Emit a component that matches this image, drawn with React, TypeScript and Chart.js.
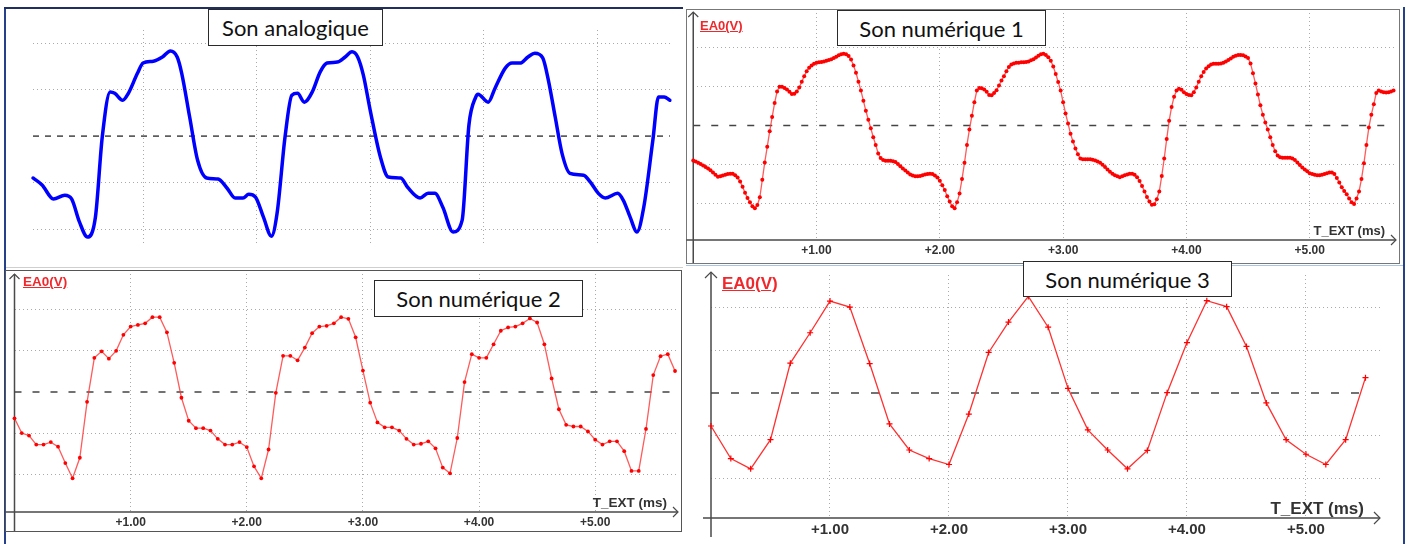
import React, { useEffect, useRef } from 'react';
import { Chart, registerables } from 'chart.js';
Chart.register(...registerables);

// ---------- data ----------
const X_TICKS_MS = [1, 2, 3, 4, 5];
const Y_GRID = [-2, -1, 1, 2];

const TITLES = ['Son analogique', 'Son numérique 1', 'Son numérique 2', 'Son numérique 3'];
const Y_LABEL = 'EA0(V)';
const X_LABEL = 'T_EXT (ms)';

// analog signal: time (ms) and level (grid divisions)
const ANALOG_T = [0.03,0.11,0.21,0.31,0.37,0.44,0.51,0.58,0.64,0.71,0.75,0.82,0.87,0.95,1.00,1.09,1.17,1.24,1.30,1.34,1.41,1.48,1.56,1.66,1.74,1.81,1.88,1.93,1.99,2.06,2.13,2.18,2.25,2.31,2.36,2.42,2.49,2.56,2.62,2.71,2.78,2.84,2.89,2.94,3.00,3.09,3.16,3.27,3.33,3.44,3.51,3.57,3.64,3.73,3.81,3.87,3.93,3.95,4.04,4.10,4.19,4.25,4.32,4.39,4.45,4.52,4.57,4.63,4.69,4.76,4.88,4.94,5.01,5.07,5.18,5.23,5.29,5.35,5.41,5.49,5.54,5.59,5.64];
const ANALOG_V = [-0.90,-1.05,-1.35,-1.27,-1.35,-1.85,-2.17,-1.74,-0.02,0.95,0.92,0.77,0.92,1.35,1.57,1.61,1.70,1.83,1.70,1.35,0.41,-0.52,-0.90,-0.92,-1.12,-1.33,-1.33,-1.25,-1.31,-1.74,-2.15,-1.66,-0.02,0.88,0.92,0.73,0.95,1.38,1.57,1.59,1.70,1.81,1.70,1.31,0.56,-0.45,-0.88,-0.90,-1.10,-1.33,-1.23,-1.23,-1.53,-2.06,-1.81,0.24,0.84,0.90,0.73,1.03,1.46,1.57,1.57,1.70,1.78,1.68,1.20,0.41,-0.37,-0.80,-0.84,-0.99,-1.23,-1.33,-1.23,-1.38,-1.74,-2.06,-1.53,-0.09,0.84,0.84,0.77];

// numérique 1: sampled every 0.02 ms
const NUM1_DT = 0.02;
const NUM1_V = [
-0.90,-0.93,-0.96,-0.99,-1.03,-1.07,-1.11,-1.15,-1.21,-1.27,
-1.32,-1.31,-1.29,-1.27,-1.25,-1.24,-1.24,-1.28,-1.34,-1.44,
-1.58,-1.73,-1.87,-1.98,-2.08,-2.13,-2.05,-1.85,-1.40,-0.95,
-0.55,-0.15,0.22,0.58,0.88,1.00,1.00,0.97,0.93,0.87,
0.81,0.82,0.88,0.98,1.13,1.27,1.40,1.49,1.55,1.59,
1.62,1.63,1.64,1.65,1.67,1.69,1.71,1.74,1.77,1.81,
1.84,1.85,1.84,1.79,1.70,1.55,1.36,1.13,0.90,0.64,
0.38,0.15,-0.07,-0.30,-0.50,-0.72,-0.84,-0.89,-0.91,-0.91,
-0.91,-0.92,-0.94,-0.99,-1.05,-1.11,-1.16,-1.21,-1.26,-1.29,
-1.31,-1.31,-1.30,-1.28,-1.26,-1.25,-1.24,-1.25,-1.29,-1.34,
-1.42,-1.54,-1.66,-1.82,-1.96,-2.08,-2.13,-1.98,-1.75,-1.38,
-0.96,-0.50,-0.10,0.25,0.60,0.90,0.97,0.96,0.93,0.87,
0.79,0.78,0.84,0.91,1.03,1.16,1.27,1.40,1.51,1.57,
1.60,1.62,1.62,1.63,1.63,1.64,1.65,1.68,1.71,1.75,
1.80,1.84,1.85,1.82,1.76,1.67,1.52,1.33,1.12,0.90,
0.60,0.31,0.05,-0.21,-0.41,-0.59,-0.74,-0.85,-0.87,-0.87,
-0.87,-0.87,-0.88,-0.90,-0.93,-0.96,-1.01,-1.07,-1.13,-1.19,
-1.24,-1.28,-1.31,-1.33,-1.31,-1.28,-1.26,-1.24,-1.24,-1.27,
-1.33,-1.43,-1.56,-1.70,-1.84,-1.96,-2.04,-2.03,-1.90,-1.70,
-1.30,-0.85,-0.35,0.12,0.48,0.74,0.90,0.95,0.92,0.86,
0.81,0.79,0.78,0.86,0.98,1.13,1.27,1.38,1.47,1.53,
1.57,1.59,1.59,1.59,1.60,1.62,1.65,1.69,1.73,1.77,
1.80,1.82,1.82,1.81,1.78,1.74,1.60,1.35,1.08,0.80,
0.52,0.28,0.08,-0.10,-0.30,-0.50,-0.66,-0.77,-0.82,-0.83,
-0.83,-0.83,-0.83,-0.85,-0.89,-0.95,-1.02,-1.08,-1.13,-1.18,
-1.23,-1.25,-1.27,-1.28,-1.28,-1.27,-1.25,-1.23,-1.21,-1.21,
-1.25,-1.35,-1.47,-1.59,-1.69,-1.77,-1.88,-1.98,-2.02,-1.88,
-1.70,-1.38,-0.97,-0.50,-0.05,0.28,0.55,0.84,0.90,0.88,
0.86,0.85,0.86,0.88,0.90
];

// numérique 2: sampled every 0.0625 ms
const NUM2_DT = 0.0625;
const NUM2_V = [
-0.64,-1.00,-1.06,-1.28,-1.28,-1.22,-1.33,-1.73,-2.10,-1.60,
-0.24,0.83,0.99,0.81,1.00,1.39,1.59,1.63,1.67,1.82,
1.82,1.45,0.71,-0.14,-0.70,-0.88,-0.88,-0.94,-1.14,-1.28,
-1.28,-1.22,-1.34,-1.81,-2.10,-1.40,-0.02,0.88,0.88,0.77,
1.08,1.43,1.59,1.61,1.67,1.82,1.78,1.33,0.52,-0.26,
-0.74,-0.86,-0.86,-0.94,-1.14,-1.28,-1.26,-1.20,-1.37,-1.84,
-1.98,-1.12,0.24,0.92,0.83,0.83,1.16,1.49,1.57,1.59,
1.67,1.79,1.69,1.16,0.33,-0.42,-0.80,-0.84,-0.84,-0.96,
-1.16,-1.28,-1.20,-1.20,-1.44,-1.92,-1.92,-0.90,0.41,0.87,
0.92,0.51
];

// numérique 3: sampled every 1/6 ms
const NUM3_DT = 1 / 6;
const NUM3_V = [-0.77,-1.53,-1.77,-1.09,0.70,1.41,2.15,2.01,0.69,-0.72,-1.33,-1.53,-1.67,-0.49,0.95,1.66,2.26,1.54,0.11,-0.86,-1.33,-1.77,-1.34,0.01,1.18,2.16,2.02,1.09,-0.23,-1.09,-1.43,-1.67,-1.09,0.36];

// ---------- helpers ----------
const sampled = (vals: number[], dt: number) => vals.map((v, i) => ({ x: i * dt, y: v }));
const paired = (ts: number[], vs: number[]) => ts.map((t, i) => ({ x: t, y: vs[i] }));

const axisArrows = {
  id: 'axisArrows',
  beforeDatasetsDraw(chart: any, _args: any, opts: any) {
    if (!opts || !opts.show) return;
    const { ctx, chartArea: a } = chart;
    const h = opts.head;
    const topY = a.top - opts.up;
    ctx.save();
    ctx.strokeStyle = '#4a4a4a';
    ctx.lineWidth = 1.5;
    ctx.beginPath();
    ctx.moveTo(a.left, topY);
    ctx.lineTo(a.left, a.bottom + opts.down);
    ctx.moveTo(a.left - opts.left, a.bottom);
    ctx.lineTo(a.right, a.bottom);
    ctx.stroke();
    ctx.lineWidth = 1.2;
    ctx.beginPath();
    ctx.moveTo(a.left - h, topY + h);
    ctx.lineTo(a.left, topY);
    ctx.lineTo(a.left + h, topY + h);
    ctx.moveTo(a.right - h, a.bottom - h);
    ctx.lineTo(a.right, a.bottom);
    ctx.lineTo(a.right - h, a.bottom + h);
    ctx.stroke();
    ctx.restore();
  },
};

type Box = { left: number; top: number; width: number; height: number };
type Pad = { left: number; right: number; top: number; bottom: number };

function ScopeChart(p: {
  box: Box; pad: Pad; xMin: number; xMax: number; yMin: number; yMax: number;
  xAxisH: number; tickSize: number; points: { x: number; y: number }[]; series: any;
  zeroDash: number[]; axes?: { up: number; down: number; left: number; head: number };
}) {
  const ref = useRef<HTMLCanvasElement>(null);
  useEffect(() => {
    const pts = p.points;
    const chart = new Chart(ref.current as HTMLCanvasElement, {
      type: 'line',
      data: {
        datasets: [
          { data: pts, order: 0, clip: 10, ...p.series },
          {
            data: [{ x: pts[0].x, y: 0 }, { x: pts[pts.length - 1].x, y: 0 }],
            borderColor: '#444', borderWidth: 1.5, borderDash: p.zeroDash,
            pointRadius: 0, order: 1, clip: 10,
          },
        ],
      },
      options: {
        animation: false,
        responsive: false,
        devicePixelRatio: 1,
        events: [],
        layout: { padding: p.pad },
        plugins: {
          legend: { display: false },
          tooltip: { enabled: false },
          axisArrows: p.axes ? { ...p.axes, show: true } : { show: false },
        } as any,
        scales: {
          x: {
            type: 'linear', min: p.xMin, max: p.xMax,
            afterBuildTicks: (s: any) => { s.ticks = X_TICKS_MS.map((v) => ({ value: v })); },
            afterFit: (s: any) => { s.height = p.xAxisH; },
            ticks: {
              display: p.xAxisH > 0, autoSkip: false, maxRotation: 0, padding: 3, color: '#333',
              font: { family: 'Liberation Sans', weight: 'bold', size: p.tickSize },
              callback: (v: any) => '+' + Number(v).toFixed(2),
            },
            grid: { color: '#aaaaaa', lineWidth: 1, drawTicks: false },
            border: { display: false, dash: [1, 3] },
          },
          y: {
            type: 'linear', min: p.yMin, max: p.yMax,
            afterBuildTicks: (s: any) => { s.ticks = Y_GRID.map((v) => ({ value: v })); },
            afterFit: (s: any) => { s.width = 0; },
            ticks: { display: false },
            grid: { color: '#aaaaaa', lineWidth: 1, drawTicks: false },
            border: { display: false, dash: [1, 3] },
          },
        },
      } as any,
      plugins: [axisArrows as any],
    });
    return () => chart.destroy();
  }, []);
  return (
    <canvas
      ref={ref}
      width={p.box.width}
      height={p.box.height}
      style={{ position: 'absolute', left: p.box.left, top: p.box.top, width: p.box.width, height: p.box.height }}
    />
  );
}

const Rect = (s: React.CSSProperties) => <div style={{ position: 'absolute', boxSizing: 'border-box', ...s }} />;

const TitleBox = ({ text, left, top, width, height }: { text: string; left: number; top: number; width: number; height: number }) => (
  <div style={{
    position: 'absolute', left, top, width, height, boxSizing: 'border-box', border: '1.5px solid #2a2a2a',
    background: '#fff', display: 'flex', alignItems: 'center', justifyContent: 'center',
    fontFamily: 'Lato, "Open Sans", sans-serif', fontSize: 22, color: '#111', whiteSpace: 'nowrap',
  }}>{text}</div>
);

const YLab = ({ left, top, size }: { left: number; top: number; size: number }) => (
  <div style={{
    position: 'absolute', left, top, fontFamily: '"Liberation Sans", Arial, sans-serif', fontWeight: 'bold',
    fontSize: size, lineHeight: 1, color: '#f0282c', textDecoration: 'underline', whiteSpace: 'nowrap',
  }}>{Y_LABEL}</div>
);

const XLab = ({ right, top, size }: { right: number; top: number; size: number }) => (
  <div style={{
    position: 'absolute', left: right - 160, width: 160, top, textAlign: 'right',
    fontFamily: '"Liberation Sans", Arial, sans-serif', fontWeight: 'bold',
    fontSize: size, lineHeight: 1, color: '#333', whiteSpace: 'nowrap',
  }}>{X_LABEL}</div>
);

const dotSeries = (r: number) => ({
  borderColor: 'rgba(255,50,50,0.8)', borderWidth: 1.3, pointRadius: r,
  pointBackgroundColor: '#ff0000', pointBorderColor: '#ff0000', pointBorderWidth: 0,
});

export default function App() {
  return (
    <div style={{ position: 'absolute', left: 0, top: 0, width: 1409, height: 544, background: '#fff', overflow: 'hidden' }}>
      {/* frames */}
      <Rect left={4} top={7} width={2} height={537} background="#26408a" />
      <Rect left={4} top={7} width={679} height={1.5} background="#1f2f60" />
      <Rect left={6} top={267} width={677} height={1} background="#cfcfcf" />
      <Rect left={686} top={9} width={714} height={255} border="1px solid #777" />
      <Rect left={686} top={265} width={717} height={1} background="#a9c5e3" />
      <Rect left={1403} top={7} width={2} height={537} background="#26408a" />
      <Rect left={5} top={270} width={677} height={262} border="1px solid #555" />

      {/* Son analogique */}
      <ScopeChart
        box={{ left: 23, top: 20, width: 658, height: 235 }}
        pad={{ left: 10, right: 10, top: 10, bottom: 10 }}
        xMin={0.03} xMax={5.65} yMin={-2.34} yMax={2.28} xAxisH={0} tickSize={12}
        points={paired(ANALOG_T, ANALOG_V)}
        series={{ borderColor: '#0000ff', borderWidth: 3.5, pointRadius: 0, cubicInterpolationMode: 'monotone', borderJoinStyle: 'round', borderCapStyle: 'round' }}
        zeroDash={[6, 6]}
      />
      {/* Son numérique 1 */}
      <ScopeChart
        box={{ left: 686, top: 9, width: 714, height: 255 }}
        pad={{ left: 7.25, right: 1.4, top: 3, bottom: 0 }}
        xMin={0} xMax={5.7} yMin={-2.95} yMax={2.9} xAxisH={24} tickSize={12}
        points={sampled(NUM1_V, NUM1_DT)}
        series={dotSeries(2)}
        zeroDash={[7, 11]}
        axes={{ up: 1, down: 23, left: 7, head: 5 }}
      />
      {/* Son numérique 2 */}
      <ScopeChart
        box={{ left: 5, top: 270, width: 677, height: 262 }}
        pad={{ left: 9.5, right: 2, top: 2, bottom: 0 }}
        xMin={0} xMax={5.713} yMin={-2.92} yMax={2.87} xAxisH={20} tickSize={12}
        points={sampled(NUM2_V, NUM2_DT)}
        series={dotSeries(1.9)}
        zeroDash={[7, 11]}
        axes={{ up: 0, down: 19, left: 10, head: 5 }}
      />
      {/* Son numérique 3 */}
      <ScopeChart
        box={{ left: 690, top: 268, width: 710, height: 276 }}
        pad={{ left: 21, right: 20, top: 7, bottom: 0 }}
        xMin={0} xMax={5.622} yMin={-2.92} yMax={2.76} xAxisH={26} tickSize={15}
        points={sampled(NUM3_V, NUM3_DT)}
        series={{ borderColor: '#ff3030', borderWidth: 1.3, pointStyle: 'cross', pointRadius: 3, pointBorderColor: '#ff0000', pointBorderWidth: 1.2 }}
        zeroDash={[8, 12]}
        axes={{ up: 3, down: 19, left: 8, head: 6 }}
      />

      {/* labels */}
      <YLab left={700} top={18.5} size={13} />
      <YLab left={23} top={275} size={13.5} />
      <YLab left={722} top={274.5} size={17} />
      <XLab right={1385} top={223.5} size={13} />
      <XLab right={667} top={496} size={13.5} />
      <XLab right={1364} top={499.5} size={17} />

      <TitleBox text={TITLES[0]} left={208} top={9} width={175} height={37} />
      <TitleBox text={TITLES[1]} left={837} top={10} width={209} height={36} />
      <TitleBox text={TITLES[2]} left={374} top={280} width={209} height={37} />
      <TitleBox text={TITLES[3]} left={1023} top={261} width={209} height={36} />
    </div>
  );
}
